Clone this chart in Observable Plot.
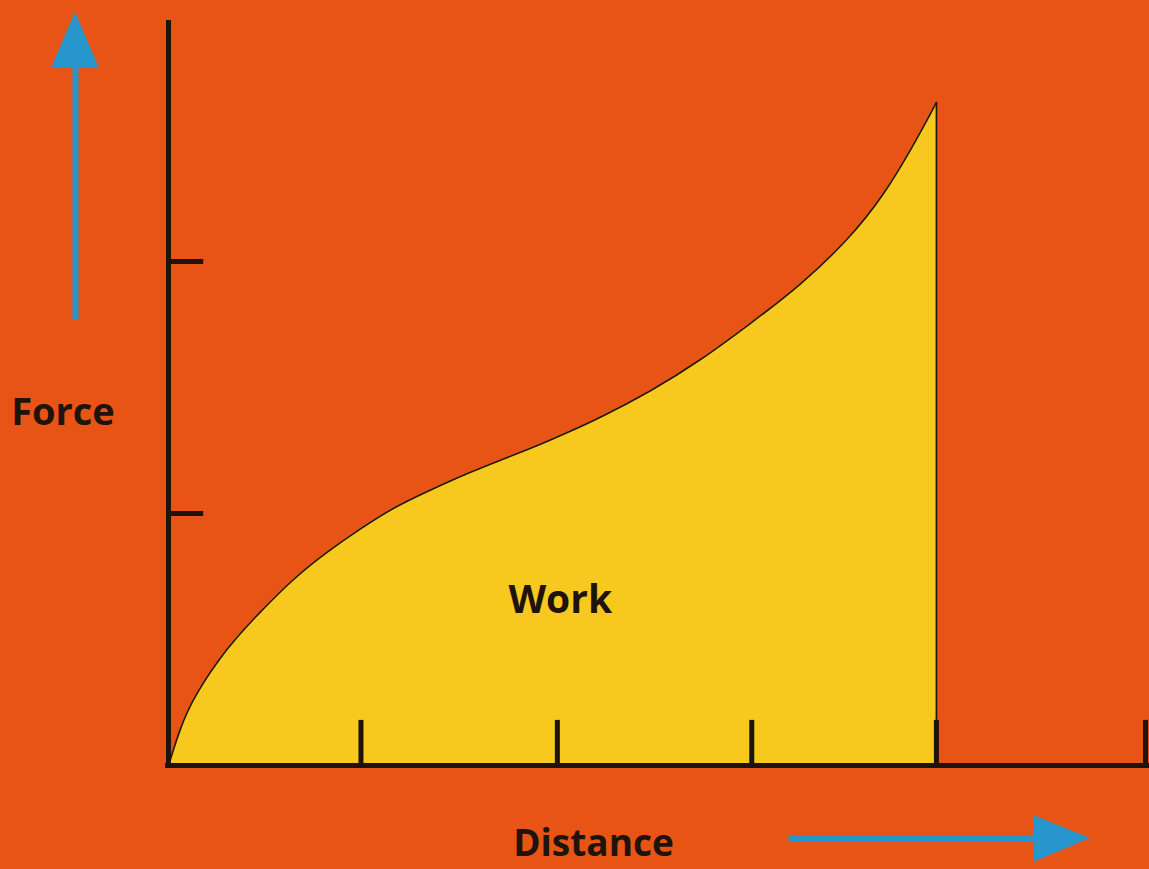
<!DOCTYPE html>
<html>
<head>
<meta charset="utf-8">
<script src="https://cdn.jsdelivr.net/npm/d3@7"></script>
<script src="https://cdn.jsdelivr.net/npm/@observablehq/plot@0.6"></script>
<style>
  html, body { margin: 0; padding: 0; background: #e85316; overflow: hidden; }
  #chart svg { display: block; }
</style>
</head>
<body>
<div id="chart"></div>
<script>
// Curve of force vs distance
const distance = [0, 0.12, 0.256, 0.604, 0.942, 1.279, 1.627, 1.965, 2.303, 2.651, 3.06, 3.398, 3.736, 4.084, 4.422, 4.933, 5.445, 5.957, 6.469, 6.981, 7.318, 7.595, 7.86];
const force    = [0, 0.150, 0.272, 0.472, 0.611, 0.742, 0.849, 0.940, 1.024, 1.088, 1.160, 1.212, 1.262, 1.321, 1.381, 1.484, 1.607, 1.754, 1.905, 2.095, 2.262, 2.440, 2.631];
const xTicks = [1.97, 3.98, 5.97, 7.86, 10];
const yTicks = [1, 2];
const labels = ["Force", "Distance", "Work"];

const curve = distance.map((d, i) => ({x: d, y: force[i]}));
const xEnd = distance[distance.length - 1];
const yEnd = force[force.length - 1];

const ORANGE = "#e85316";
const YELLOW = "#f7c81e";
const INK = "#1f140c";
const BLUE = "#2696cd";
const FONT = "'Open Sans', 'Noto Sans', sans-serif";

// arrow heads (decorative annotation, in chart units)
const upHead = [{y: 2.766, x1: -1.198, x2: -0.706}, {y: 2.988, x1: -0.952, x2: -0.952}];
const rightHead = [{x: 8.854, y1: -0.198, y2: -0.385}, {x: 9.437, y1: -0.29, y2: -0.29}];

const chart = Plot.plot({
  width: 1149,
  height: 869,
  marginLeft: 168,
  marginRight: 4,
  marginTop: 9,
  marginBottom: 104,
  x: {domain: [0, 10], axis: null},
  y: {domain: [0, 3], axis: null},
  style: {background: ORANGE, fontFamily: FONT},
  marks: [
    Plot.areaY(curve, {x: "x", y: "y", fill: YELLOW, curve: "basis"}),
    Plot.lineY(curve, {x: "x", y: "y", stroke: INK, strokeWidth: 1.6, curve: "basis"}),
    Plot.ruleX([xEnd], {y1: 0, y2: yEnd, stroke: INK, strokeWidth: 1.6}),
    // axes
    Plot.ruleY([0], {x1: -0.03, x2: 10.1, stroke: INK, strokeWidth: 5}),
    Plot.ruleX([0], {y1: -0.012, y2: 2.956, stroke: INK, strokeWidth: 5}),
    Plot.ruleX(xTicks, {y1: 0, y2: 0.179, stroke: INK, strokeWidth: 5}),
    Plot.ruleY(yTicks, {x1: 0, x2: 0.36, stroke: INK, strokeWidth: 5}),
    // labels
    Plot.text([labels[0]], {x: -1.08, y: 1.40, text: d => d, fontSize: 38, fontWeight: "bold", fill: INK, fontFamily: FONT}),
    Plot.text([labels[1]], {x: 4.35, y: -0.312, text: d => d, fontSize: 37, fontWeight: "bold", fill: INK, fontFamily: FONT}),
    Plot.text([labels[2]], {x: 4.01, y: 0.655, text: d => d, fontSize: 39, fontWeight: "bold", fill: INK, fontFamily: FONT}),
    // blue arrows
    Plot.ruleX([-0.952], {y1: 1.766, y2: 2.78, stroke: BLUE, strokeWidth: 6}),
    Plot.areaX(upHead, {y: "y", x1: "x1", x2: "x2", fill: BLUE}),
    Plot.ruleY([-0.29], {x1: 6.35, x2: 8.9, stroke: BLUE, strokeWidth: 6}),
    Plot.areaY(rightHead, {x: "x", y1: "y1", y2: "y2", fill: BLUE})
  ]
});
document.getElementById("chart").appendChild(chart);
</script>
</body>
</html>
